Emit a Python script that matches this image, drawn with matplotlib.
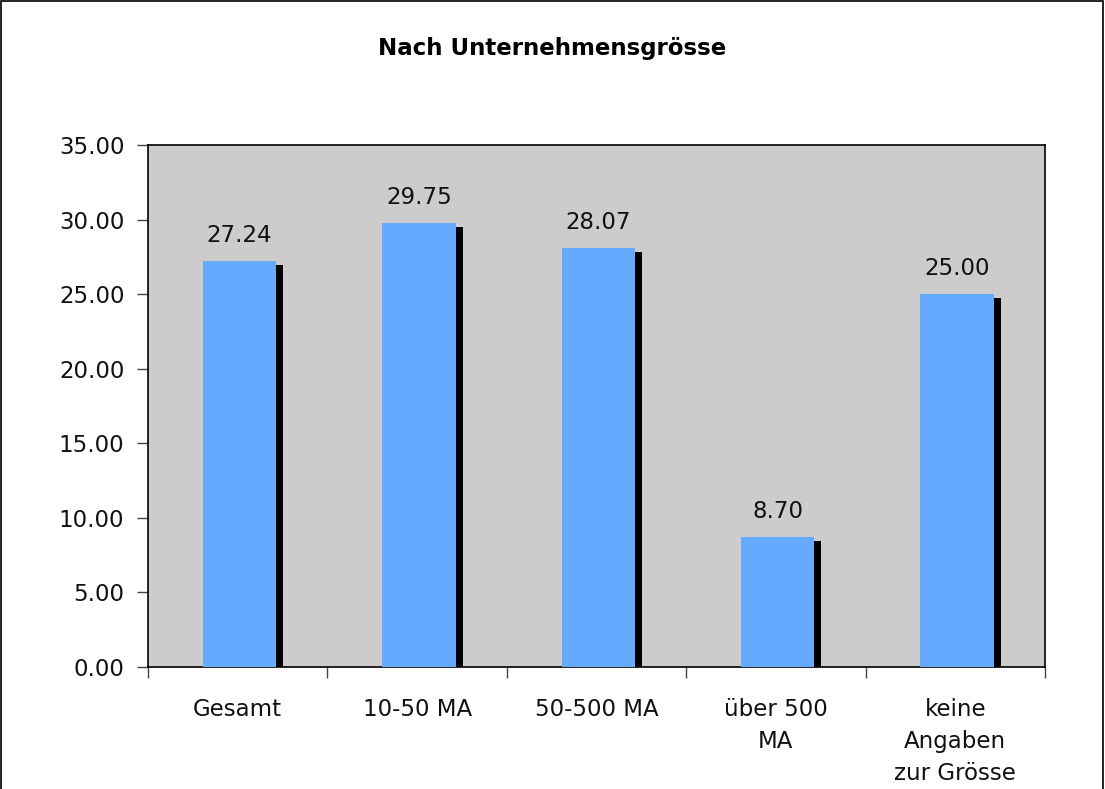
import matplotlib
matplotlib.use("Agg")
import matplotlib.pyplot as plt
import matplotlib.transforms as mtransforms
import numpy as np

categories = ["Gesamt", "10-50 MA", "50-500 MA", "über 500\nMA", "keine\nAngaben\nzur Grösse"]
values = [27.24, 29.75, 28.07, 8.70, 25.00]
title = "Nach Unternehmensgrösse"
yticks = [0, 5, 10, 15, 20, 25, 30, 35]

W, H, DPI = 1105, 789, 100
fig = plt.figure(figsize=(W / DPI, H / DPI), dpi=DPI)
fig.patch.set_facecolor("white")
ax = fig.add_axes([148 / W, 1 - 667 / H, (1045 - 148) / W, (667 - 145) / H])
ax.set_facecolor("#CCCCCC")

FS = 16.5
x = np.arange(len(categories))
bw = 0.41
xc = x + 0.01
# shadow bars, shifted right and down by a few pixels
shadow = ax.bar(xc, values, width=bw, color="black", zorder=2, linewidth=0)
off = mtransforms.ScaledTranslation(7 / DPI, -4 / DPI, fig.dpi_scale_trans)
for p in shadow:
    p.set_transform(ax.transData + off)
ax.bar(xc, values, width=bw, color="#66AAFF", zorder=3, linewidth=0)

for xi, v in zip(xc, values):
    ax.annotate(f"{v:.2f}", (xi, v), xytext=(0, 10), textcoords="offset points",
                ha="center", va="bottom", fontsize=FS, color="#111111")

ax.set_xlim(-0.5, len(categories) - 0.5)
ax.set_ylim(0, 35)
ax.set_yticks(yticks)
ax.set_yticklabels([f"{t:.2f}" for t in yticks], fontsize=FS, color="#111111")
ax.set_xticks(np.arange(len(categories) + 1) - 0.5)
ax.set_xticklabels([])
ax.set_xticks(x, minor=True)
ax.set_xticklabels(categories, minor=True, fontsize=FS, linespacing=1.5, va="top", color="#111111")
ax.tick_params(axis="x", which="minor", length=0, pad=22)
ax.tick_params(axis="x", which="major", length=8, width=1, direction="out", color="#444444")
ax.tick_params(axis="y", length=8, width=1, direction="out", pad=9, color="#444444")
for s in ax.spines.values():
    s.set_color("black")
    s.set_linewidth(1.2)

fig.text(0.5, 1 - 48 / H, title, ha="center", va="center", fontsize=16.5, fontweight="bold")

# outer border
border = plt.Rectangle((0.5 / W, -0.01), 1 - 2.5 / W, 1 - 0.5 / H + 0.01, transform=fig.transFigure,
                       fill=False, edgecolor="black", linewidth=1.2)
fig.patches.append(border)

fig.savefig("out.png", dpi=DPI)
